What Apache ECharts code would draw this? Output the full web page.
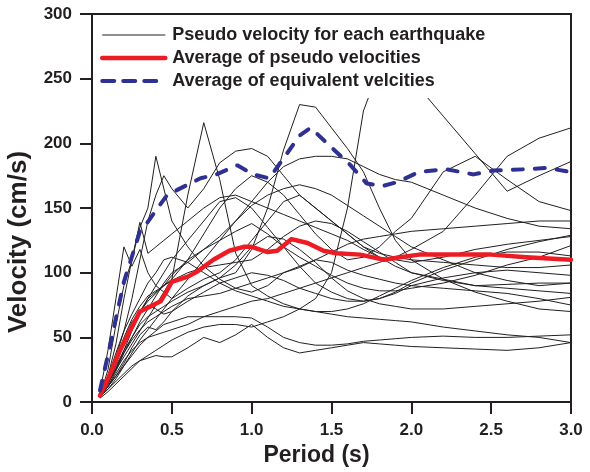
<!DOCTYPE html>
<html>
<head>
<meta charset="utf-8">
<script src="https://cdn.jsdelivr.net/npm/echarts@6/dist/echarts.min.js"></script>
<style>
html,body{margin:0;padding:0;background:#fff;}
#chart{width:590px;height:472px;}
</style>
</head>
<body>
<div id="chart"></div>
<script>
// Periods (s) at which each earthquake's pseudo velocity is read
const periods = [0.05,0.1,0.15,0.2,0.25,0.3,0.35,0.4,0.45,0.5,0.6,0.7,0.8,0.9,1.0,1.1,1.2,1.3,1.4,1.5,1.6,1.7,1.8,1.9,2.0,2.2,2.4,2.6,2.8,3.0];

// Pseudo velocity (cm/s) for each earthquake
const eq1  = [3,8,14,20,26,32,36,40,44,48,54,58,60,60,58,62,66,72,80,100,150,225,258,268,250,221,192,163,175,186];
const eq2  = [4,12,20,30,42,52,58,56,62,70,82,90,96,100,118,150,195,230,228,212,196,178,150,125,110,95,85,78,72,70];
const eq3  = [5,15,25,35,45,55,65,75,85,95,160,216,172,115,90,82,76,72,70,68,66,65,64,63,62,58,55,52,50,46];
const eq4  = [6,20,45,80,110,135,150,190,165,140,120,105,95,88,85,90,100,105,110,108,102,98,95,92,90,88,86,84,80,75];
const eq5  = [5,18,35,55,80,110,140,160,175,165,150,165,185,194,196,190,175,160,150,140,130,120,112,105,100,95,90,88,86,84];
const eq6  = [8,40,80,120,105,118,100,90,85,80,88,95,100,110,125,140,155,160,150,140,130,120,115,112,110,108,106,104,104,106];
const eq7  = [5,25,60,90,110,139,115,120,125,130,140,150,158,160,155,150,145,140,135,130,125,118,112,110,108,112,118,122,125,128];
const eq8  = [4,10,18,28,38,48,56,64,72,80,95,110,125,140,155,170,182,188,190,190,188,182,176,172,170,160,150,142,136,134];
const eq9  = [5,15,30,45,60,70,80,85,90,95,110,130,150,165,175,170,160,145,130,118,110,112,120,132,142,178,190,172,155,148];
const eq10 = [4,12,22,32,40,46,50,52,54,56,60,66,70,74,78,80,84,88,92,96,100,104,108,112,118,132,160,190,204,212];
const eq11 = [4,10,16,22,28,32,34,36,35,35,42,50,46,52,60,50,42,38,40,42,44,46,45,44,43,42,41,40,42,46];
const eq12 = [5,12,20,28,36,44,50,55,60,62,66,66,66,66,65,58,50,46,44,44,45,47,48,49,50,51,50,50,51,52];
const eq13 = [6,16,30,48,62,70,78,84,90,98,110,118,125,132,138,130,120,112,105,98,92,88,86,86,88,92,98,106,112,121];
const eq14 = [5,14,26,40,55,68,80,90,100,110,125,140,155,158,150,135,120,105,92,85,80,78,80,85,92,102,110,118,124,129];
const eq15 = [4,12,24,38,50,62,72,82,92,100,108,118,128,140,152,160,165,168,165,160,152,144,136,128,120,110,100,94,90,92];
const eq16 = [5,16,30,45,58,70,75,72,68,70,78,85,92,96,100,98,94,88,84,80,78,78,80,84,90,96,100,102,100,98];
const eq17 = [6,20,38,55,68,80,92,100,110,112,108,100,92,86,82,78,74,72,70,70,72,76,82,88,94,104,112,116,116,113];
const eq18 = [5,15,28,40,50,60,66,70,74,78,85,90,96,106,120,128,126,118,108,96,86,80,76,74,72,72,74,76,78,81];
const eq19 = [4,14,26,38,48,56,62,66,70,74,80,82,84,88,92,96,100,104,110,116,122,126,128,130,132,134,136,138,140,140];
const eq20 = [5,18,34,50,64,74,82,86,90,94,100,104,106,108,110,118,128,136,140,138,132,124,116,108,100,94,90,91,92,92];
const earthquakes = [eq1,eq2,eq3,eq4,eq5,eq6,eq7,eq8,eq9,eq10,eq11,eq12,eq13,eq14,eq15,eq16,eq17,eq18,eq19,eq20];

// Average of pseudo velocities
const avgPseudoPeriods = [0.05,0.1,0.175,0.3,0.35,0.43,0.46,0.5,0.6,0.66,0.76,0.86,0.95,1.0,1.1,1.16,1.25,1.35,1.45,1.53,1.68,1.83,1.93,2.05,2.5,2.72,3.0];
const avgPseudoValues  = [5,18,40,70,73,78,84,93,97,101,110,117,120,120,116,117,126,123,117,115,114,110,112,114,114,112,110];

// Average of equivalent velocities
const avgEquivPeriods = [0.05,0.11,0.2,0.3,0.33,0.47,0.55,0.68,0.78,0.91,1.01,1.11,1.22,1.3,1.37,1.49,1.62,1.72,1.82,1.91,2.05,2.22,2.39,2.51,2.72,2.85,2.99];
const avgEquivValues  = [9,42,93,132,136,160,165,173,176,183,176,173,192,206,212,198,183,169,167,170,178,180,176,179,180,181,178];

// Axis ticks
const xTicks = [0,0.5,1.0,1.5,2.0,2.5,3.0];
const yTicks = [0,50,100,150,200,250,300];

const NAME_EQ = 'Pseudo velocity for each earthquake';
const NAME_PS = 'Average of pseudo velocities';
const NAME_EV = 'Average of equivalent velcities';

const pairs = (xs, ys) => xs.map((x, i) => [x, ys[i]]);
const FONT = 'Liberation Sans, Arial, Helvetica, sans-serif';
const INK = '#231f20';
const RED = '#ed1c24';
const BLUE = '#2e3192';

const eqLine = { color: INK, width: 1 };
const psLine = { color: RED, width: 4.5, cap: 'round', join: 'round' };
const evLine = { color: BLUE, width: 4, type: [10, 12], cap: 'round' };

const series = earthquakes.map(v => ({
  name: NAME_EQ, type: 'line', data: pairs(periods, v),
  symbol: 'none', silent: true, z: 2,
  itemStyle: { color: INK }, lineStyle: eqLine
}));
series.push({
  name: NAME_PS, type: 'line', data: pairs(avgPseudoPeriods, avgPseudoValues),
  symbol: 'none', z: 4, itemStyle: { color: RED }, lineStyle: psLine
});
series.push({
  name: NAME_EV, type: 'line', data: pairs(avgEquivPeriods, avgEquivValues),
  symbol: 'none', z: 5, itemStyle: { color: BLUE }, lineStyle: evLine
});

const chart = echarts.init(document.getElementById('chart'), null, { renderer: 'canvas' });
chart.setOption({
  animation: false,
  backgroundColor: '#fff',
  textStyle: { fontFamily: FONT },
  grid: { left: 92, right: 19, top: 14, bottom: 67, show: true, borderColor: INK, borderWidth: 2, backgroundColor: 'transparent' },
  legend: {
    data: [
      { name: NAME_EQ, lineStyle: { width: 1.2, color: INK } },
      { name: NAME_PS, lineStyle: { width: 4.5, color: RED, cap: 'round' } },
      { name: NAME_EV, lineStyle: { width: 4, color: BLUE, type: [12, 9], cap: 'round' } }
    ],
    orient: 'vertical', left: 94, top: 15,
    padding: [11, 10, 8, 6],
    backgroundColor: '#fff',
    itemWidth: 63, itemHeight: 14, itemGap: 5,
    itemStyle: { opacity: 0 },
    selectedMode: false,
    textStyle: { fontFamily: FONT, fontWeight: 'bold', fontSize: 18, color: INK, padding: [0, 0, 0, 2] }
  },
  graphic: [{
    type: 'text', x: 19, y: 242, rotation: Math.PI / 2, silent: true,
    style: { text: 'Velocity (cm/s)', font: 'bold 26px ' + FONT, fill: INK, align: 'center', verticalAlign: 'middle' }
  }],
  xAxis: {
    type: 'value', min: xTicks[0], max: xTicks[xTicks.length - 1], interval: 0.5,
    name: 'Period (s)', nameLocation: 'middle', nameGap: 39,
    nameTextStyle: { fontFamily: FONT, fontWeight: 'bold', fontSize: 23, color: INK, padding: [0, 30, 0, 0] },
    axisLine: { lineStyle: { color: INK, width: 2 } },
    axisTick: { inside: false, length: 12, lineStyle: { color: INK, width: 2 } },
    axisLabel: { margin: 20, fontFamily: FONT, fontWeight: 'bold', fontSize: 17, color: INK, formatter: v => v.toFixed(1) },
    splitLine: { show: false }
  },
  yAxis: {
    type: 'value', min: yTicks[0], max: yTicks[yTicks.length - 1], interval: 50,
    axisLine: { lineStyle: { color: INK, width: 2 } },
    axisTick: { inside: false, length: 12, lineStyle: { color: INK, width: 2 } },
    axisLabel: { margin: 20, fontFamily: FONT, fontWeight: 'bold', fontSize: 17, color: INK },
    splitLine: { show: false }
  },
  series: series
});
</script>
</body>
</html>
